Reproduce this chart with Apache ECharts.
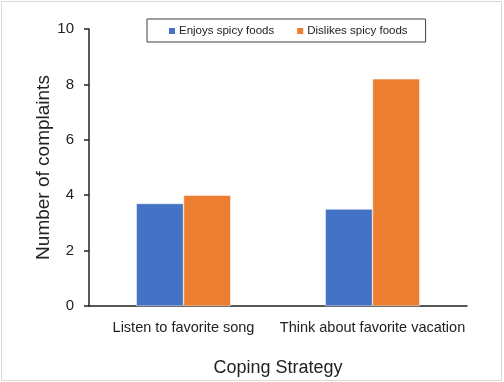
<!DOCTYPE html>
<html><head><meta charset="utf-8">
<script src="https://cdn.jsdelivr.net/npm/echarts@6/dist/echarts.min.js"></script>
<style>html,body{margin:0;padding:0;background:#fff}#c{width:504px;height:382px}</style>
</head><body><div id="c"></div>
<script>
const categories = ["Listen to favorite song", "Think about favorite vacation"];
const enjoys = [3.7, 3.5];
const dislikes = [4.0, 8.2];
const seriesNames = ["Enjoys spicy foods", "Dislikes spicy foods"];
const yTicks = [0, 2, 4, 6, 8, 10];

const font = "Liberation Sans";
const chart = echarts.init(document.getElementById('c'), null, {renderer: 'canvas'});
chart.setOption({
  animation: false,
  backgroundColor: '#fff',
  graphic: [{type: 'rect', shape: {x: 1.5, y: 1.5, width: 500, height: 379}, style: {fill: 'none', stroke: '#d9d9d9', lineWidth: 1}, z: -1}],
  legend: {
    top: 19, left: 147,
    padding: [6, 18, 5, 20],
    itemGap: 21,
    itemWidth: 8, itemHeight: 8,
    borderColor: '#404040', borderWidth: 1,
    textStyle: {fontFamily: font, fontSize: 11.5, color: '#222', padding: [0, 0, 0, -2]},
    data: seriesNames, icon: 'rect'
  },
  grid: {left: 89, right: 37, top: 29, bottom: 76, containLabel: false},
  xAxis: {
    type: 'category', data: categories,
    axisLine: {lineStyle: {color: '#222', width: 1.5}},
    axisTick: {show: false},
    axisLabel: {fontFamily: font, fontSize: 14.5, color: '#222', margin: 14, interval: 0},
    name: 'Coping Strategy', nameLocation: 'middle', nameGap: 53, nameMoveOverlap: false,
    nameTextStyle: {fontFamily: font, fontSize: 18, color: '#222'}
  },
  yAxis: {
    type: 'value', min: 0, max: 10, interval: 2,
    axisLine: {show: true, lineStyle: {color: '#222', width: 1.5}},
    axisTick: {show: true, length: 5, lineStyle: {color: '#222', width: 1.5}},
    splitLine: {show: false},
    axisLabel: {fontFamily: font, fontSize: 15, color: '#222', margin: 15},
    name: 'Number of complaints', nameLocation: 'middle', nameGap: 36, nameMoveOverlap: false,
    nameTextStyle: {fontFamily: font, fontSize: 19, color: '#222'}
  },
  series: [
    {name: seriesNames[0], type: 'bar', data: enjoys, barGap: '0%', barCategoryGap: '50%',
     itemStyle: {color: '#4472c4', borderColor: '#fff', borderWidth: 0.5}},
    {name: seriesNames[1], type: 'bar', data: dislikes, barGap: '0%', barCategoryGap: '50%',
     itemStyle: {color: '#ed7d31', borderColor: '#fff', borderWidth: 0.5}}
  ]
});
</script></body></html>
